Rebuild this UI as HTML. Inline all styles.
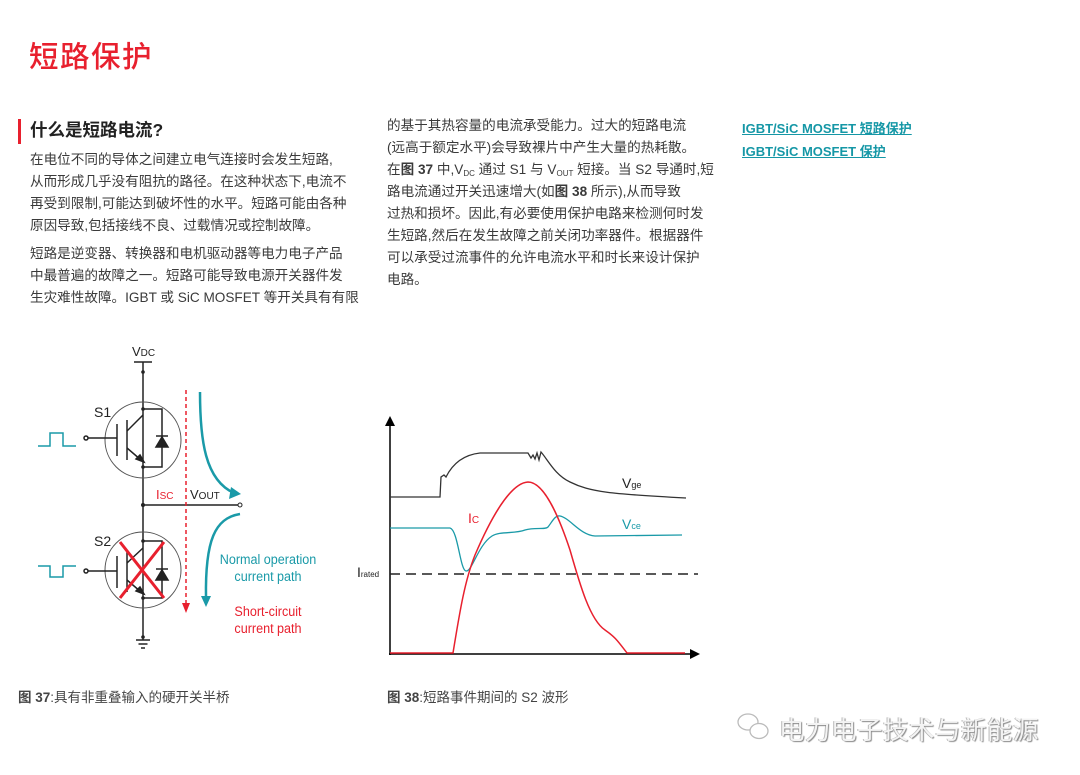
<!DOCTYPE html>
<html><head><meta charset="utf-8"><style>
body{margin:0;width:1080px;height:775px;background:#fff;position:relative;overflow:hidden;font-family:"Liberation Sans","Noto Sans CJK SC",sans-serif;color:#333}
.a{position:absolute;white-space:nowrap}
.t{font-size:13.6px;color:#3a3a3a;line-height:22px}
.lk{font-size:13px;color:#1597a6;text-decoration:underline;font-weight:bold}
sub{font-size:8px;vertical-align:-2px}
</style></head><body>
<div class="a" style="left:29px;top:34px;font-size:29.5px;color:#e8202e;font-weight:500;letter-spacing:1.5px">短路保护</div>
<div class="a" style="left:18px;top:119px;width:3px;height:25px;background:#e8202e"></div>
<div class="a" style="left:30px;top:117px;font-size:17.5px;font-weight:bold;color:#222">什么是短路电流?</div>
<div class="a t" style="left:30px;top:149px">在电位不同的导体之间建立电气连接时会发生短路,</div>
<div class="a t" style="left:30px;top:171px">从而形成几乎没有阻抗的路径。在这种状态下,电流不</div>
<div class="a t" style="left:30px;top:193px">再受到限制,可能达到破坏性的水平。短路可能由各种</div>
<div class="a t" style="left:30px;top:215px">原因导致,包括接线不良、过载情况或控制故障。</div>
<div class="a t" style="left:30px;top:243px">短路是逆变器、转换器和电机驱动器等电力电子产品</div>
<div class="a t" style="left:30px;top:265px">中最普遍的故障之一。短路可能导致电源开关器件发</div>
<div class="a t" style="left:30px;top:287px">生灾难性故障。IGBT 或 SiC MOSFET 等开关具有有限</div>

<div class="a t" style="left:387px;top:115px">的基于其热容量的电流承受能力。过大的短路电流</div>
<div class="a t" style="left:387px;top:137px">(远高于额定水平)会导致裸片中产生大量的热耗散。</div>
<div class="a t" style="left:387px;top:159px">在<b>图 37</b> 中,V<sub>DC</sub> 通过 S1 与 V<sub>OUT</sub> 短接。当 S2 导通时,短</div>
<div class="a t" style="left:387px;top:181px">路电流通过开关迅速增大(如<b>图 38</b> 所示),从而导致</div>
<div class="a t" style="left:387px;top:203px">过热和损坏。因此,有必要使用保护电路来检测何时发</div>
<div class="a t" style="left:387px;top:225px">生短路,然后在发生故障之前关闭功率器件。根据器件</div>
<div class="a t" style="left:387px;top:247px">可以承受过流事件的允许电流水平和时长来设计保护</div>
<div class="a t" style="left:387px;top:269px">电路。</div>

<div class="a lk" style="left:742px;top:118px">IGBT/SiC MOSFET 短路保护</div>
<div class="a lk" style="left:742px;top:141px">IGBT/SiC MOSFET 保护</div>

<svg class="a" style="left:0;top:0" width="1080" height="775" font-family="Liberation Sans,sans-serif">
<defs>
<marker id="bk" markerWidth="10" markerHeight="10" refX="2" refY="5" orient="auto" markerUnits="userSpaceOnUse"><path d="M0,0 L10,5 L0,10z" fill="#000"/></marker>
</defs>
<g stroke="#222" stroke-width="1.5" fill="none">
<line x1="134" y1="362" x2="152" y2="362"/>
<line x1="143" y1="362" x2="143" y2="640"/>
<line x1="136" y1="640" x2="150" y2="640"/><line x1="138.5" y1="644" x2="147.5" y2="644"/><line x1="141" y1="648" x2="145" y2="648"/>
<circle cx="143" cy="440" r="38" stroke="#555" stroke-width="1"/>
<circle cx="143" cy="570" r="38" stroke="#555" stroke-width="1"/>
<line x1="143" y1="505" x2="238" y2="505"/>
</g>
<circle cx="240" cy="505" r="2" fill="#fff" stroke="#222"/>
<g stroke="#222" stroke-width="1.5" fill="#222">
<line x1="88" y1="438" x2="117" y2="438"/><circle cx="86" cy="438" r="2" fill="#fff"/>
<line x1="117" y1="424" x2="117" y2="456"/><line x1="127" y1="420" x2="127" y2="460"/>
<line x1="127" y1="431" x2="143" y2="415" fill="none"/><line x1="127" y1="448" x2="141" y2="460"/>
<polyline points="143,409 162,409 162,467 143,467" fill="none"/>
<path d="M156,447 L168,447 L162,437z"/><line x1="156" y1="436" x2="168" y2="436"/>
<path d="M144,462 L136,459 L140,455z"/>
</g>
<g stroke="#222" stroke-width="1.5" fill="#222">
<line x1="88" y1="571" x2="117" y2="571"/><circle cx="86" cy="571" r="2" fill="#fff"/>
<line x1="117" y1="556" x2="117" y2="588"/><line x1="127" y1="552" x2="127" y2="592"/>
<line x1="127" y1="563" x2="143" y2="548" fill="none"/><line x1="127" y1="580" x2="141" y2="592"/>
<polyline points="143,541 162,541 162,598 143,598" fill="none"/>
<path d="M156,580 L168,580 L162,570z"/><line x1="156" y1="569" x2="168" y2="569"/>
<path d="M144,594 L136,591 L140,587z"/>
</g>
<g fill="#222"><circle cx="143" cy="372" r="1.8"/><circle cx="143" cy="409" r="1.8"/><circle cx="143" cy="467" r="1.8"/><circle cx="143" cy="505" r="2"/><circle cx="143" cy="541" r="1.8"/><circle cx="143" cy="598" r="1.8"/><circle cx="143" cy="637" r="1.8"/></g>
<line x1="120" y1="542" x2="164" y2="598" stroke="#e8202e" stroke-width="3"/>
<line x1="164" y1="542" x2="120" y2="598" stroke="#e8202e" stroke-width="3"/>
<polyline points="38,446 50,446 50,433 63,433 63,446 76,446" fill="none" stroke="#1a9aa8" stroke-width="1.5"/>
<polyline points="38,566 50,566 50,577 63,577 63,566 76,566" fill="none" stroke="#1a9aa8" stroke-width="1.5"/>
<line x1="186" y1="390" x2="186" y2="604" stroke="#e8202e" stroke-width="1.5" stroke-dasharray="4,3"/>
<path d="M182,603 L190,603 L186,613z" fill="#e8202e"/>
<path d="M200,392 C200,440 205,480 234,493" fill="none" stroke="#1a9aa8" stroke-width="2.5"/>
<path d="M231,487 L241,494 L229,499z" fill="#1a9aa8"/>
<path d="M240,514 C215,518 205,540 206,598" fill="none" stroke="#1a9aa8" stroke-width="2.5"/>
<path d="M201,596 L211,596 L206,607z" fill="#1a9aa8"/>
<text x="132" y="356" font-size="13" fill="#222">V<tspan font-size="10">DC</tspan></text>
<text x="94" y="417" font-size="14" fill="#222">S1</text>
<text x="94" y="546" font-size="14" fill="#222">S2</text>
<text x="156" y="499" font-size="13" fill="#e8202e">I<tspan font-size="10">SC</tspan></text>
<text x="190" y="499" font-size="13" fill="#222">V<tspan font-size="10">OUT</tspan></text>
<g font-size="14" text-anchor="middle" transform="translate(268,0) scale(0.9,1) translate(-268,0)"><text x="268" y="564" fill="#1a9aa8">Normal operation</text><text x="268" y="581" fill="#1a9aa8">current path</text>
<text x="268" y="616" fill="#e8202e">Short-circuit</text><text x="268" y="633" fill="#e8202e">current path</text></g>
<line x1="390" y1="655" x2="390" y2="424" stroke="#000" stroke-width="1.5" marker-end="url(#bk)"/>
<line x1="389" y1="654" x2="692" y2="654" stroke="#000" stroke-width="1.5" marker-end="url(#bk)"/>
<line x1="390" y1="574" x2="698" y2="574" stroke="#222" stroke-width="1.5" stroke-dasharray="10,6"/>
<path d="M390,497 L440,497 L441,477 L444,475 L446,477 C452,465 462,455 480,453 L528,453 L531,458 L533,455 L535,459 L537,453 L539,460 L541,452 C548,460 555,475 570,482 C590,492 610,494 686,498" fill="none" stroke="#333" stroke-width="1.3"/>
<path d="M390,528 L450,528 C458,530 460,570 466,571 C472,572 478,545 492,536 C500,531 515,534 525,530 C535,527 545,530 548,527 C552,522 555,515 560,516 C570,518 580,535 595,536 L682,535" fill="none" stroke="#1a9aa8" stroke-width="1.3"/>
<path d="M390,653 L453,653 C460,610 465,580 475,555 C490,520 510,483 528,482 C545,482 560,520 570,550 C580,585 590,620 605,630 C615,637 617,640 627,653 L685,653" fill="none" stroke="#e8202e" stroke-width="1.5"/>
<text x="468" y="523" font-size="14" fill="#e8202e">I<tspan font-size="10">C</tspan></text>
<text x="622" y="488" font-size="14" fill="#222">V<tspan font-size="9">ge</tspan></text>
<text x="622" y="529" font-size="14" fill="#1a9aa8">V<tspan font-size="9">ce</tspan></text>
<text x="357" y="577" font-size="14" fill="#222">I<tspan font-size="8">rated</tspan></text>
<g fill="#fff" stroke="#bbb" stroke-width="1.3"><ellipse cx="748" cy="722" rx="10" ry="8"/><ellipse cx="759" cy="731" rx="9" ry="7.5"/></g>
</svg>
<div class="a" style="left:18px;top:686px;font-size:13.5px;color:#444"><b>图 37</b>:具有非重叠输入的硬开关半桥</div>
<div class="a" style="left:387px;top:686px;font-size:13.5px;color:#444"><b>图 38</b>:短路事件期间的 S2 波形</div>
<div class="a" style="left:779px;top:710px;font-size:25.5px;letter-spacing:0.5px;color:#f4f4f4;text-shadow:1px 1px 1px #888,-1px 0 0 #bbb">电力电子技术与新能源</div>
</body></html>
